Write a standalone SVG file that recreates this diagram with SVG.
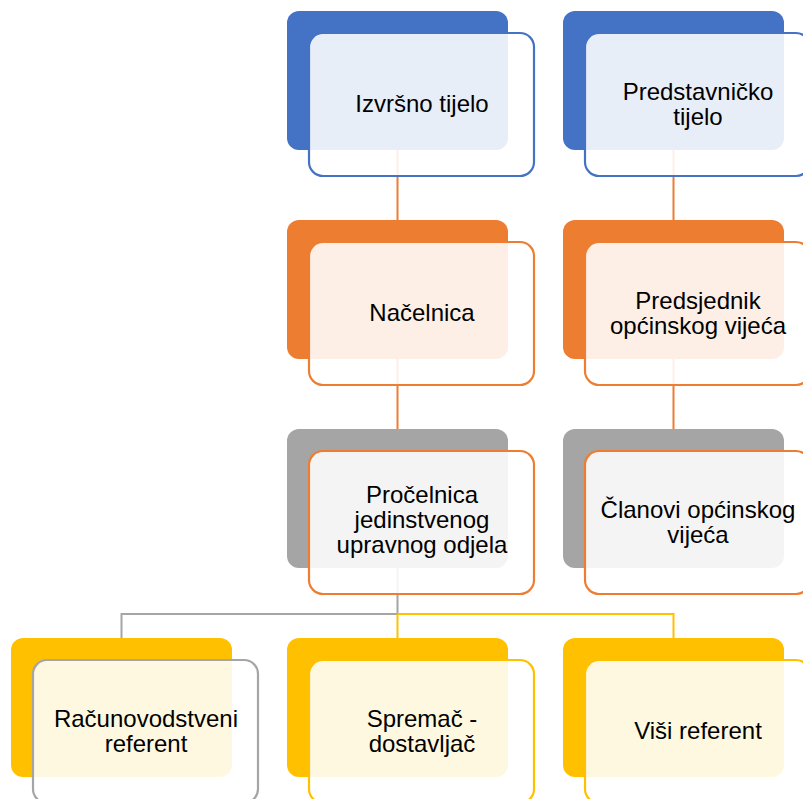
<svg xmlns="http://www.w3.org/2000/svg" width="803" height="799" viewBox="0 0 803 799">
<style>
.bk{stroke:none}
.fr{fill:#ffffff;fill-opacity:0.88;stroke-width:2.2}
.t{font-family:"Liberation Sans",Arial,sans-serif;font-size:24px;fill:#000000;text-anchor:middle}
.c{fill:none;stroke-width:2}
</style>
<rect width="803" height="799" fill="#ffffff"/>
<g id="connectors">
<line class="c" x1="397.5" y1="150" x2="397.5" y2="220" stroke="#ED7D31"/>
<line class="c" x1="673.5" y1="150" x2="673.5" y2="220" stroke="#ED7D31"/>
<line class="c" x1="397.5" y1="359" x2="397.5" y2="429" stroke="#ED7D31"/>
<line class="c" x1="673.5" y1="359" x2="673.5" y2="429" stroke="#ED7D31"/>
<polyline class="c" points="397.5,568 397.5,614 121.5,614 121.5,638" stroke="#A5A5A5"/>
<polyline class="c" points="397.5,614 673.5,614 673.5,638" stroke="#FFC000"/>
<line class="c" x1="397.5" y1="614" x2="397.5" y2="638" stroke="#FFC000"/>
</g>
<g id="izvrsno">
<rect class="bk" x="287" y="11" width="221" height="139" rx="12" fill="#4472C4"/>
<rect class="fr" x="309" y="33" width="225" height="143" rx="14" stroke="#4472C4"/>
<text class="t" x="422" y="112">Izvršno tijelo</text>
</g>
<g id="predstavnicko">
<rect class="bk" x="563" y="11" width="221" height="139" rx="12" fill="#4472C4"/>
<rect class="fr" x="585" y="33" width="225" height="143" rx="14" stroke="#4472C4"/>
<text class="t" x="698" y="100">Predstavničko</text>
<text class="t" x="698" y="125">tijelo</text>
</g>
<g id="nacelnica">
<rect class="bk" x="287" y="220" width="221" height="139" rx="12" fill="#ED7D31"/>
<rect class="fr" x="309" y="242" width="225" height="143" rx="14" stroke="#ED7D31"/>
<text class="t" x="422" y="321">Načelnica</text>
</g>
<g id="predsjednik">
<rect class="bk" x="563" y="220" width="221" height="139" rx="12" fill="#ED7D31"/>
<rect class="fr" x="585" y="242" width="225" height="143" rx="14" stroke="#ED7D31"/>
<text class="t" x="698" y="309">Predsjednik</text>
<text class="t" x="698" y="334">općinskog vijeća</text>
</g>
<g id="procelnica">
<rect class="bk" x="287" y="429" width="221" height="139" rx="12" fill="#A5A5A5"/>
<rect class="fr" x="309" y="451" width="225" height="143" rx="14" stroke="#ED7D31"/>
<text class="t" x="422" y="503">Pročelnica</text>
<text class="t" x="422" y="528">jedinstvenog</text>
<text class="t" x="422" y="553">upravnog odjela</text>
</g>
<g id="clanovi">
<rect class="bk" x="563" y="429" width="221" height="139" rx="12" fill="#A5A5A5"/>
<rect class="fr" x="585" y="451" width="225" height="143" rx="14" stroke="#ED7D31"/>
<text class="t" x="698" y="518">Članovi općinskog</text>
<text class="t" x="698" y="543">vijeća</text>
</g>
<g id="racunovodstveni">
<rect class="bk" x="11" y="638" width="221" height="139" rx="12" fill="#FFC000"/>
<rect class="fr" x="33" y="660" width="225" height="143" rx="14" stroke="#A5A5A5"/>
<text class="t" x="146" y="727">Računovodstveni</text>
<text class="t" x="146" y="752">referent</text>
</g>
<g id="spremac">
<rect class="bk" x="287" y="638" width="221" height="139" rx="12" fill="#FFC000"/>
<rect class="fr" x="309" y="660" width="225" height="143" rx="14" stroke="#FFC000"/>
<text class="t" x="422" y="727">Spremač -</text>
<text class="t" x="422" y="752">dostavljač</text>
</g>
<g id="visi">
<rect class="bk" x="563" y="638" width="221" height="139" rx="12" fill="#FFC000"/>
<rect class="fr" x="585" y="660" width="225" height="143" rx="14" stroke="#FFC000"/>
<text class="t" x="698" y="739">Viši referent</text>
</g>
</svg>
